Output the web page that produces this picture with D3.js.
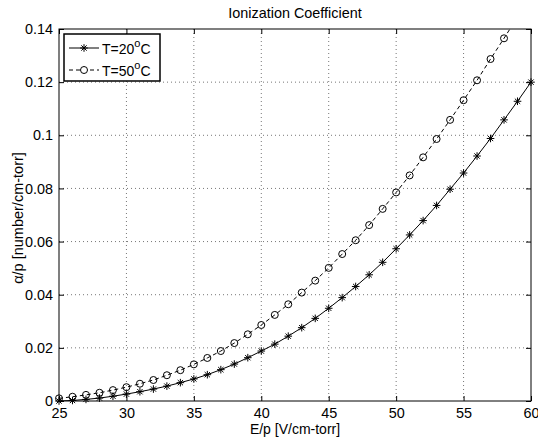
<!DOCTYPE html>
<html>
<head>
<meta charset="utf-8">
<script src="https://cdn.jsdelivr.net/npm/d3@7"></script>
<style>
  body { margin: 0; background: #fff; }
  text { font-family: "Liberation Sans", Arial, sans-serif; fill: #000; }
</style>
</head>
<body>
<svg width="538" height="442"></svg>
<script>
const svg = d3.select('svg');

// E/p values, one per point
const ep20 = d3.range(25, 61);
const ep50 = d3.range(25, 61);

// T=20 C series
const alpha20 = [0.0000, 0.0002, 0.0006, 0.0011, 0.0018, 0.0026, 0.0035, 0.0045, 0.0056, 0.0069,
  0.0083, 0.0099, 0.0118, 0.0139, 0.0163, 0.0188, 0.0214, 0.0244, 0.0276, 0.0311,
  0.0349, 0.0389, 0.0431, 0.0475, 0.0522, 0.0573, 0.0625, 0.0679, 0.0736, 0.0797,
  0.0858, 0.0922, 0.0988, 0.1058, 0.1128, 0.1200];

// T=50 C series (last two run off the top of the axes)
const alpha50 = [0.0010, 0.0016, 0.0023, 0.0031, 0.0041, 0.0052, 0.0065, 0.0079, 0.0097, 0.0116,
  0.0138, 0.0162, 0.0188, 0.0218, 0.0251, 0.0286, 0.0324, 0.0364, 0.0408, 0.0453,
  0.0501, 0.0553, 0.0605, 0.0662, 0.0723, 0.0785, 0.0849, 0.0917, 0.0986, 0.1058,
  0.1132, 0.1207, 0.1287, 0.1365, 0.1445, 0.1528];

const xTicks = [25, 30, 35, 40, 45, 50, 55, 60];
const yTicks = [0, 0.02, 0.04, 0.06, 0.08, 0.1, 0.12, 0.14];
const yTickLabels = ['0', '0.02', '0.04', '0.06', '0.08', '0.1', '0.12', '0.14'];

const margin = { top: 29, right: 7, bottom: 41, left: 59 };
const width = 538, height = 442;
const innerWidth = width - margin.left - margin.right;
const innerHeight = height - margin.top - margin.bottom;

const xScale = d3.scaleLinear().domain([25, 60]).range([0, innerWidth]);
const yScale = d3.scaleLinear().domain([0, 0.14]).range([innerHeight, 0]);

const g = svg.append('g')
  .attr('transform', `translate(${margin.left},${margin.top})`);

g.append('clipPath').attr('id', 'clip')
  .append('rect').attr('width', innerWidth).attr('height', innerHeight);

//grid lines
g.append('g').selectAll('line').data(xTicks.slice(1, -1)).enter().append('line')
  .attr('x1', d => xScale(d)).attr('x2', d => xScale(d))
  .attr('y1', 0).attr('y2', innerHeight)
  .attr('stroke', '#777').attr('stroke-dasharray', '1,3');
g.append('g').selectAll('line').data(yTicks.slice(1, -1)).enter().append('line')
  .attr('y1', d => yScale(d)).attr('y2', d => yScale(d))
  .attr('x1', 0).attr('x2', innerWidth)
  .attr('stroke', '#777').attr('stroke-dasharray', '1,3');

//axes, ticks pointing inward
const xAxis = d3.axisBottom(xScale).tickValues(xTicks).tickSizeInner(-5).tickSizeOuter(0).tickPadding(7);
const yAxis = d3.axisLeft(yScale).tickValues(yTicks)
  .tickFormat((d, i) => yTickLabels[i]).tickSizeInner(-5).tickSizeOuter(0).tickPadding(6);

const styleAxis = sel => {
  sel.selectAll('path, line').attr('stroke', '#000');
  sel.selectAll('text').style('font-size', '14.4px').attr('fill', '#000');
  sel.selectAll('text').filter(function () { return this.textContent === ''; }).remove();
  sel.select('.domain').remove();
};

g.append('g').attr('transform', `translate(0,${innerHeight})`).call(xAxis).call(styleAxis);
g.append('g').call(yAxis).call(styleAxis);
g.append('g').call(d3.axisTop(xScale).tickValues(xTicks).tickSizeInner(-5).tickSizeOuter(0).tickFormat(''))
  .call(styleAxis);
g.append('g').attr('transform', `translate(${innerWidth},0)`)
  .call(d3.axisRight(yScale).tickValues(yTicks).tickSizeInner(-5).tickSizeOuter(0).tickFormat(''))
  .call(styleAxis);

g.append('rect').attr('width', innerWidth).attr('height', innerHeight)
  .attr('fill', 'none').attr('stroke', '#000').attr('stroke-width', 1);

//series
const line = d3.line().x(d => xScale(d[0])).y(d => yScale(d[1]));
const pts20 = ep20.map((e, i) => [e, alpha20[i]]);
const pts50 = ep50.map((e, i) => [e, alpha50[i]]);

g.append('path').datum(pts20).attr('d', line).attr('clip-path', 'url(#clip)')
  .attr('fill', 'none').attr('stroke', '#000').attr('stroke-width', 1);
g.append('path').datum(pts50).attr('d', line).attr('clip-path', 'url(#clip)')
  .attr('fill', 'none').attr('stroke', '#000').attr('stroke-width', 1)
  .attr('stroke-dasharray', '4,3');

const starPath = s => `M${-s},0L${s},0M0,${-s}L0,${s}M${-s * 0.7},${-s * 0.7}L${s * 0.7},${s * 0.7}M${-s * 0.7},${s * 0.7}L${s * 0.7},${-s * 0.7}`;

g.append('g').selectAll('path').data(pts20.filter(d => d[1] <= 0.14)).enter().append('path')
  .attr('transform', d => `translate(${xScale(d[0])},${yScale(d[1])})`)
  .attr('d', starPath(3.8)).attr('stroke', '#000').attr('stroke-width', 1);

g.append('g').selectAll('circle').data(pts50.filter(d => d[1] <= 0.14)).enter().append('circle')
  .attr('cx', d => xScale(d[0])).attr('cy', d => yScale(d[1])).attr('r', 3.5)
  .attr('fill', 'none').attr('stroke', '#000').attr('stroke-width', 1);

//legend
const legend = g.append('g').attr('transform', 'translate(5,5)');
legend.append('rect').attr('width', 96).attr('height', 47)
  .attr('fill', '#fff').attr('stroke', '#000').attr('stroke-width', 1.5);
const legendItems = [
  { label: '20', dash: null, marker: 'star' },
  { label: '50', dash: '4,3', marker: 'circle' }
];
legendItems.forEach((item, i) => {
  const y = 14 + i * 22;
  legend.append('line').attr('x1', 5).attr('x2', 35).attr('y1', y).attr('y2', y)
    .attr('stroke', '#000').attr('stroke-dasharray', item.dash);
  if (item.marker === 'star') {
    legend.append('path').attr('transform', `translate(20,${y})`).attr('d', starPath(3.8))
      .attr('stroke', '#000');
  } else {
    legend.append('circle').attr('cx', 20).attr('cy', y).attr('r', 3.5)
      .attr('fill', '#fff').attr('stroke', '#000');
  }
  const t = legend.append('text').attr('x', 38).attr('y', y + 6).style('font-size', '14px');
  t.append('tspan').text('T=' + item.label);
  t.append('tspan').attr('dy', -7).style('font-size', '11px').text('o');
  t.append('tspan').attr('dy', 7).text('C');
});

//title and labels
svg.append('text').attr('x', margin.left + innerWidth / 2).attr('y', 18)
  .attr('text-anchor', 'middle').style('font-size', '14.4px').text('Ionization Coefficient');
svg.append('text').attr('x', margin.left + innerWidth / 2).attr('y', 434)
  .attr('text-anchor', 'middle').style('font-size', '14px').text('E/p [V/cm-torr]');
svg.append('text').attr('transform', 'translate(22.5,218) rotate(-90)')
  .attr('text-anchor', 'middle').style('font-size', '14.5px').text('α/p [number/cm-torr]');
</script>
</body>
</html>
